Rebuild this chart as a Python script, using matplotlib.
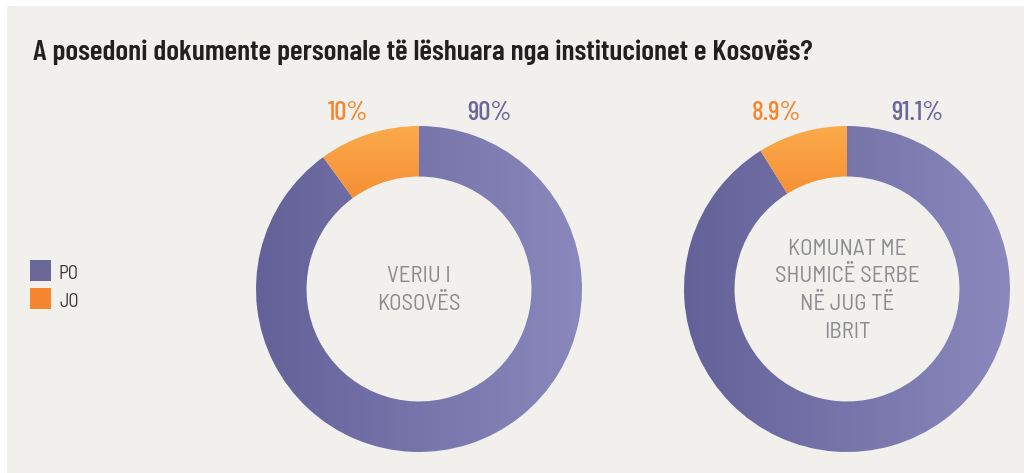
import matplotlib
matplotlib.use('Agg')
import matplotlib.pyplot as plt
import numpy as np
from matplotlib.colors import LinearSegmentedColormap
from matplotlib.patches import Rectangle

# ---- data ----
title = "A posedoni dokumente personale të lëshuara nga institucionet e Kosovës?"
categories = ["PO", "JO"]
regions = ["VERIU I\nKOSOVËS", "KOMUNAT ME\nSHUMICË SERBE\nNË JUG TË\nIBRIT"]
values_po = [90, 91.1]
values_jo = [10, 8.9]
labels_po = ["90%", "91.1%"]
labels_jo = ["10%", "8.9%"]

# ---- style ----
COND = ['Barlow Condensed', 'DejaVu Sans']
SEMI = ['Barlow Semi Condensed', 'Barlow Condensed', 'DejaVu Sans']

W, H = 1024, 473
BG = '#f1f0ec'
PURPLE = '#6a6799'
ORANGE = '#f5862f'
pcmap = LinearSegmentedColormap.from_list('p', ['#646199', '#8a88bc'])
ocmap = LinearSegmentedColormap.from_list('o', ['#fbab4b', '#f58b31'])

fig = plt.figure(figsize=(W / 100, H / 100), dpi=100, facecolor='white')
fig.patches.append(Rectangle((7 / W, 0), 1 - 7 / W, 1 - 6 / H, transform=fig.transFigure,
                             facecolor=BG, edgecolor='none', zorder=-5))

fig.text(33 / W, 1 - 60 / H, title, fontsize=21.3, fontweight=600, color='#231f20',
         family=COND, va='baseline', ha='left')

centers = [(419, 289), (847, 289)]
r = 163
for i, (cx, cy) in enumerate(centers):
    ax = fig.add_axes([(cx - r) / W, (H - cy - r) / H, 2 * r / W, 2 * r / H])
    ax.set_facecolor('none')
    wedges, _ = ax.pie([values_po[i], values_jo[i]], startangle=90, counterclock=False,
                       radius=1, wedgeprops=dict(width=0.31, linewidth=0))
    gh = np.linspace(0, 1, 256).reshape(1, -1)
    im = ax.imshow(gh, extent=[-1, 1, -1, 1], cmap=pcmap, aspect='auto', zorder=2)
    im.set_clip_path(wedges[0])
    gv = np.linspace(0, 1, 256).reshape(-1, 1)
    im2 = ax.imshow(gv, extent=[-1, 1, 0.5, 1.0], cmap=ocmap, aspect='auto', zorder=2,
                    origin='upper')
    im2.set_clip_path(wedges[1])
    for w in wedges:
        w.set_facecolor('none')
    ax.set_xlim(-1, 1)
    ax.set_ylim(-1, 1)
    ax.set_aspect('equal')
    ax.axis('off')
    ax.text(0, -0.01, regions[i], ha='center', va='center', fontsize=16.5, fontweight=400,
            color='#8a8c8e', family=SEMI, linespacing=1.42, zorder=3)
    fig.text((cx - 71) / W, 1 - 120 / H, labels_jo[i], ha='center', va='baseline',
             fontsize=19.5, fontweight=500, color=ORANGE, family=COND)
    fig.text((cx + 70) / W, 1 - 120 / H, labels_po[i], ha='center', va='baseline',
             fontsize=19.5, fontweight=500, color=PURPLE, family=COND)

# legend
for j, (cat, col) in enumerate(zip(categories, [PURPLE, ORANGE])):
    top = 260 + 28 * j
    fig.patches.append(Rectangle((30 / W, 1 - (top + 21) / H), 21 / W, 21 / H,
                                 transform=fig.transFigure, facecolor=col,
                                 edgecolor='none', zorder=1))
    fig.text(59 / W, 1 - (top + 19) / H, cat, fontsize=13.5, fontweight=400,
             color='#3a3a3a', family=SEMI, va='baseline', ha='left')

fig.savefig('out.png', dpi=100, facecolor='white')
